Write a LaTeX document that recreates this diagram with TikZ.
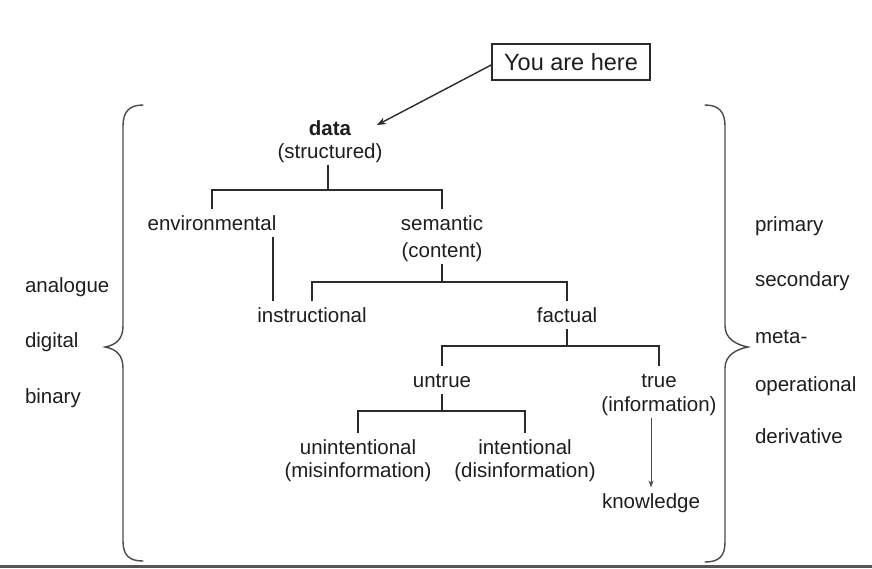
\documentclass[tikz,border=0pt]{standalone}
\usepackage{fontspec}
\setmainfont{Liberation Sans}
\usetikzlibrary{arrows.meta}
\definecolor{ink}{HTML}{1E1E1E}
\definecolor{lineink}{HTML}{2A2A2A}
\definecolor{braceink}{HTML}{4A4A4A}
\definecolor{barink}{HTML}{555555}
\begin{document}
\begin{tikzpicture}[x=1pt,y=-1pt,
  lbl/.style={inner sep=0pt, outer sep=4pt, text height=0.72em+10pt, text depth=0.2em,
    font=\fontsize{20.5}{24}\selectfont, text=ink},
  side/.style={inner sep=0pt, outer sep=0pt, anchor=west, text height=0.72em+10pt, text depth=0.2em,
    font=\fontsize{20.5}{24}\selectfont, text=ink},
  tree/.style={draw=lineink, line width=1.5pt},
  bracepath/.style={draw=braceink, line width=1.4pt, line cap=round},
  yahbox/.style={draw=lineink, line width=1.6pt, inner sep=0pt, minimum width=158pt,
    minimum height=36pt, font=\fontsize{23.5}{28}\selectfont, text=ink},
  pointer/.style={draw=lineink, line width=1.4pt, -{Stealth[length=9pt,width=7pt]}},
  thinarrow/.style={draw=braceink, line width=0.9pt, -{Stealth[length=7pt,width=5pt]}}
]
\useasboundingbox (0,0) rectangle (872,568);
\fill[white] (0,0) rectangle (872,568);
\fill[barink] (0,565) rectangle (872,568);

% You are here
\node[yahbox] (yah) at (571,62) {You are here};
\coordinate (datatip) at (377,125);
\draw[pointer] ([yshift=-3pt]yah.west) -- (datatip);

% tree nodes
\node[lbl, font=\fontsize{20.5}{24}\selectfont\bfseries] (data) at (330,128) {data};
\node[lbl] (datas) at (330,151) {(structured)};
\node[lbl] (env) at (212,223) {environmental};
\node[lbl] (sem) at (442,223) {semantic};
\node[lbl] (semc) at (442,250) {(content)};
\node[lbl] (inst) at (312,315) {instructional};
\node[lbl] (fact) at (567,315) {factual};
\node[lbl] (untrue) at (442,380) {untrue};
\node[lbl] (true) at (659,380) {true};
\node[lbl] (truei) at (659,404) {(information)};
\node[lbl] (unint) at (358,447) {unintentional};
\node[lbl] (unintm) at (358,470) {(misinformation)};
\node[lbl] (int) at (525,447) {intentional};
\node[lbl] (intd) at (525,470) {(disinformation)};
\node[lbl] (know) at (651,501) {knowledge};

% tree connectors
\coordinate (j1) at (328,190);
\draw[tree] ([xshift=-2pt]datas.south) -- (j1);
\draw[tree] (env.north) |- (j1) -| (sem.north);
\coordinate (j2) at (442,282);
\draw[tree] (semc.south) -- (j2);
\draw[tree] (inst.north) |- (j2) -| (fact.north);
\coordinate (j3) at (567,346);
\draw[tree] (fact.south) -- (j3);
\draw[tree] (untrue.north) |- (j3) -| (true.north);
\coordinate (j4) at (442,411);
\draw[tree] (untrue.south) -- (j4);
\draw[tree] (unint.north) |- (j4) -| (int.north);
\coordinate (e1) at (273,0);
\draw[tree] (env.south -| e1) -- (inst.north -| e1);
\draw[thinarrow] (truei.south -| know.north) -- (know.north);

% braces
\draw[bracepath] (143,105) .. controls (129,105) and (123,112) .. (123,126)
  -- (123,326) .. controls (123,339) and (116,345) .. (105,347)
  .. controls (116,349) and (123,355) .. (123,368)
  -- (123,541) .. controls (123,555) and (129,561) .. (143,561);
\draw[bracepath] (705,105) .. controls (719,105) and (725,112) .. (725,126)
  -- (725,326) .. controls (725,339) and (737,345) .. (748,347)
  .. controls (737,349) and (725,355) .. (725,368)
  -- (725,542) .. controls (725,556) and (719,562) .. (705,562);

% side labels
\node[side] (ana) at (25,285) {analogue};
\node[side] (dig) at (25,340) {digital};
\node[side] (bin) at (25,396) {binary};
\node[side] (pri) at (755,224) {primary};
\node[side] (sec) at (755,279) {secondary};
\node[side] (meta) at (755,336) {meta-};
\node[side] (ope) at (755,384) {operational};
\node[side] (der) at (755,436) {derivative};
\end{tikzpicture}
\end{document}
